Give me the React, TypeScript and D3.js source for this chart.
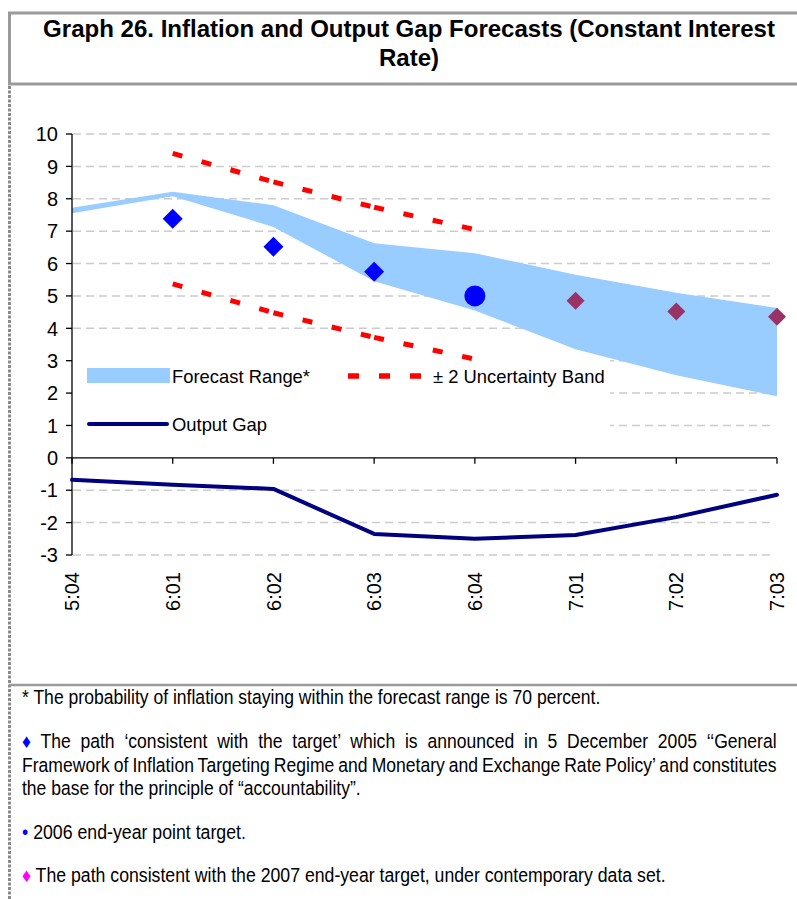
import React from "react";
import * as d3 from "d3";

const categories = ["5:04", "6:01", "6:02", "6:03", "6:04", "7:01", "7:02", "7:03"];
const forecastUpper = [7.72, 8.22, 7.8, 6.63, 6.32, 5.65, 5.1, 4.63];
const forecastLower = [7.55, 8.08, 7.13, 5.45, 4.55, 3.35, 2.55, 1.9];
const bandUpper: (number | null)[] = [null, 9.4, 8.52, 7.74, 7.05, null, null, null];
const bandLower: (number | null)[] = [null, 5.37, 4.48, 3.72, 3.05, null, null, null];
const targetPath: (number | null)[] = [null, 7.38, 6.52, 5.75, null, null, null, null];
const pointTarget: (number | null)[] = [null, null, null, null, 5.0, null, null, null];
const path2007: (number | null)[] = [null, null, null, null, null, 4.85, 4.52, 4.36];
const outputGap = [-0.68, -0.83, -0.96, -2.35, -2.5, -2.38, -1.83, -1.14];
const yTicks = d3.range(-3, 11);

const titleLines = ["Graph 26. Inflation and Output Gap Forecasts (Constant Interest", "Rate)"];
const legendLabels = ["Forecast Range*", "± 2 Uncertainty Band", "Output Gap"];

type Part = { t: string; fill?: string };
const footnotes: { parts: Part[]; x1: number; y: number; justify: boolean }[] = [
  { parts: [{ t: "* The probability of inflation staying within the forecast range is 70 percent." }], x1: 601, y: 704, justify: false },
  { parts: [{ t: "♦", fill: "#0000FF" }, { t: " The path ‘consistent with the target’ which is announced in 5 December 2005 ‘‘General" }], x1: 778, y: 748, justify: true },
  { parts: [{ t: "Framework of Inflation Targeting Regime and Monetary and Exchange Rate Policy’ and constitutes" }], x1: 778, y: 771.5, justify: true },
  { parts: [{ t: "the base for the principle of “accountability”." }], x1: 361, y: 795, justify: false },
  { parts: [{ t: "•", fill: "#0000FF" }, { t: " 2006 end-year point target" }, { t: ".", fill: "#0000FF" }], x1: 246, y: 839, justify: false },
  { parts: [{ t: "♦", fill: "#FF00FF" }, { t: " The path consistent with the 2007 end-year target, under contemporary data set." }], x1: 666, y: 882, justify: false },
];

let ctx: CanvasRenderingContext2D | null = null;
function measure(text: string, font: string): number {
  if (!ctx) ctx = document.createElement("canvas").getContext("2d");
  if (!ctx) return text.length * 9;
  ctx.font = font;
  return ctx.measureText(text).width;
}

const FONT = "'Liberation Sans', Arial, sans-serif";

export default function App() {
  const x = d3.scalePoint<string>().domain(categories).range([72, 777]);
  const y = d3.scaleLinear().domain([-3, 10]).range([555, 134]);

  const band = d3
    .area<number>()
    .x((_, i) => x(categories[i]) as number)
    .y0((_, i) => y(forecastLower[i]))
    .y1((_, i) => y(forecastUpper[i]))(forecastUpper) as string;

  const gapLine = d3
    .line<number>()
    .x((_, i) => x(categories[i]) as number)
    .y((d) => y(d))(outputGap) as string;

  const segs = (arr: (number | null)[]) => {
    const out: { x1: number; y1: number; x2: number; y2: number }[] = [];
    for (let i = 0; i < arr.length - 1; i++) {
      const a = arr[i], b = arr[i + 1];
      if (a != null && b != null)
        out.push({ x1: x(categories[i]) as number, y1: y(a), x2: x(categories[i + 1]) as number, y2: y(b) });
    }
    return out;
  };

  const diamond = (cx: number, cy: number, r: number) =>
    `M${cx},${cy - r}L${cx + r},${cy}L${cx},${cy + r}L${cx - r},${cy}Z`;

  const titleSize = 23.5;
  const titleFont = `bold ${titleSize}px ${FONT}`;
  const titleK = 732 / measure(titleLines[0], titleFont);

  const fnSize = 19.5;
  const fnFont = `${fnSize}px ${FONT}`;
  const fnX0 = 22;
  const refText = footnotes[0].parts.map((p) => p.t).join("");
  const kRef = (footnotes[0].x1 - fnX0) / measure(refText, fnFont);

  return (
    <svg
      width={797}
      height={899}
      style={{ position: "absolute", left: 0, top: 0, display: "block", background: "#fff" }}
      fontFamily={FONT}
    >
      <rect x={0} y={0} width={797} height={899} fill="#fff" />
      <rect x={9.5} y={13} width={800} height={71} fill="none" stroke="#9a9a9a" strokeWidth={3} />
      {titleLines.map((t, i) => (
        <text
          key={i}
          transform={`translate(409,${i === 0 ? 37 : 66}) scale(${titleK},1)`}
          textAnchor="middle"
          fontWeight="bold"
          fontSize={titleSize}
          fill="#000"
        >
          {t}
        </text>
      ))}
      <line x1={9.5} y1={86} x2={9.5} y2={899} stroke="#8a8a8a" strokeWidth={3} strokeDasharray="3,1.5" />
      <line x1={9} y1={685} x2={797} y2={685} stroke="#9a9a9a" strokeWidth={2.5} />

      {yTicks
        .filter((t) => t !== 0)
        .map((t) => (
          <line key={t} x1={73} x2={774} y1={y(t)} y2={y(t)} stroke="#cccccc" strokeWidth={1.5} strokeDasharray="8,5" />
        ))}

      <rect x={73} y={351} width={537} height={90} fill="#fff" />

      <path d={band} fill="#99CCFF" stroke="none" />

      {[...segs(bandUpper), ...segs(bandLower)].map((s, i) => (
        <line key={i} {...s} stroke="#FF0000" strokeWidth={5} strokeDasharray="10,20" />
      ))}

      <line x1={72} x2={72} y1={y(10)} y2={y(-3)} stroke="#000" strokeWidth={1.3} />
      <line x1={72} x2={777} y1={y(0)} y2={y(0)} stroke="#000" strokeWidth={1.3} />
      {yTicks.map((t) => (
        <g key={t}>
          <line x1={66} x2={72} y1={y(t)} y2={y(t)} stroke="#000" strokeWidth={1.3} />
          <text x={58} y={y(t)} dy="0.36em" textAnchor="end" fontSize={20} fill="#000">
            {t}
          </text>
        </g>
      ))}
      {categories.map((c) => (
        <g key={c}>
          <line x1={x(c)} x2={x(c)} y1={y(0)} y2={y(0) + 6} stroke="#000" strokeWidth={1.3} />
          <text
            transform={`translate(${x(c)},572) rotate(-90)`}
            dy="0.36em"
            textAnchor="end"
            fontSize={20}
            fill="#000"
          >
            {c}
          </text>
        </g>
      ))}

      <path d={gapLine} fill="none" stroke="#000080" strokeWidth={4} strokeLinejoin="round" strokeLinecap="round" />

      {targetPath.map((v, i) =>
        v == null ? null : <path key={"t" + i} d={diamond(x(categories[i]) as number, y(v), 10)} fill="#0000FF" />
      )}
      {pointTarget.map((v, i) =>
        v == null ? null : <circle key={"c" + i} cx={x(categories[i])} cy={y(v)} r={10.5} fill="#0000FF" />
      )}
      {path2007.map((v, i) =>
        v == null ? null : <path key={"p" + i} d={diamond(x(categories[i]) as number, y(v), 9)} fill="#993366" />
      )}

      <rect x={87} y={368} width={83} height={15} fill="#99CCFF" />
      <text x={172} y={383} fontSize={18.4} fill="#000">
        {legendLabels[0]}
      </text>
      <line x1={348} x2={421} y1={376} y2={376} stroke="#FF0000" strokeWidth={5.5} strokeDasharray="11,20" />
      <text x={433} y={383} fontSize={18.4} fill="#000">
        {legendLabels[1]}
      </text>
      <line x1={89} x2={167} y1={424} y2={424} stroke="#000080" strokeWidth={4} strokeLinecap="round" />
      <text x={172} y={431} fontSize={18.4} fill="#000">
        {legendLabels[2]}
      </text>

      {footnotes.map((f, i) => {
        const full = f.parts.map((p) => p.t).join("");
        const nat = measure(full, fnFont);
        const target = f.x1 - fnX0;
        let k = target / nat;
        let ws = 0;
        if (f.justify) {
          k = kRef;
          const spaces = (full.match(/ /g) || []).length;
          ws = (target / k - nat) / spaces;
        }
        return (
          <text
            key={i}
            transform={`translate(${fnX0},${f.y}) scale(${k},1)`}
            fontSize={fnSize}
            fill="#000"
            style={{ wordSpacing: ws }}
          >
            {f.parts.map((p, j) => (
              <tspan key={j} fill={p.fill || "#000"}>
                {p.t}
              </tspan>
            ))}
          </text>
        );
      })}
    </svg>
  );
}
